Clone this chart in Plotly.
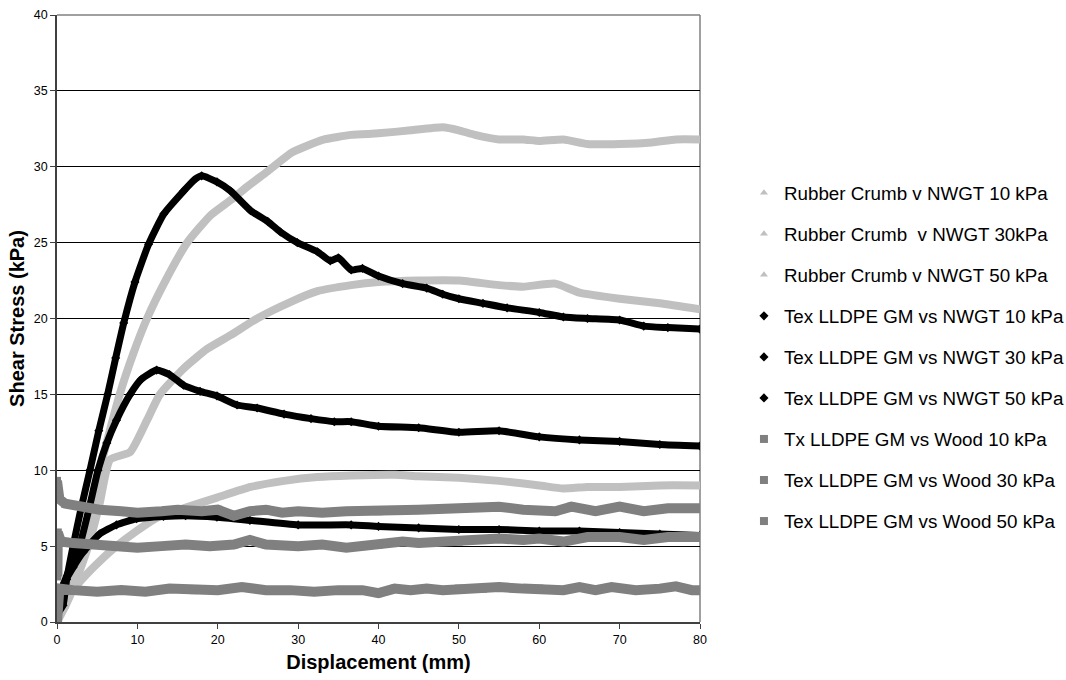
import plotly.graph_objects as go

# ---------------- data ----------------
rc10_x = [0, 0.75, 3.25, 5.3, 7.4, 9.9, 12.5, 15.75, 19.9, 24.1, 28.25, 32.4, 36.6, 42, 45, 50, 55, 60, 63, 66, 70, 75, 80]
rc10_y = [0, 1.3, 2.9, 4.0, 5.0, 6.0, 6.9, 7.5, 8.2, 8.9, 9.3, 9.55, 9.65, 9.7, 9.6, 9.5, 9.3, 9.0, 8.8, 8.9, 8.9, 9.0, 9.0]

rc30_x = [0, 1, 2, 3.9, 5.3, 6.6, 9.1, 11.2, 12.8, 15.75, 18.7, 21.6, 24.9, 29.1, 32.4, 36.6, 40, 45, 50, 55, 58, 62, 65, 70, 75, 80]
rc30_y = [0, 1.0, 2.2, 5.0, 7.8, 10.7, 11.2, 13.3, 15.0, 16.7, 18.0, 18.9, 20.0, 21.1, 21.8, 22.2, 22.4, 22.5, 22.5, 22.2, 22.1, 22.3, 21.7, 21.3, 21.0, 20.6]

rc50_x = [0, 1, 2, 3.25, 5.3, 7.8, 9.5, 11.2, 13.5, 16.2, 19.1, 21.6, 23.7, 26.2, 29.1, 30.75, 33.25, 36.6, 40, 44, 48, 50, 52, 55, 58, 60, 63, 66, 70, 74, 77, 80]
rc50_y = [0, 1.5, 3.2, 5.0, 10.0, 15.0, 17.7, 20.0, 22.5, 25.0, 26.8, 27.8, 28.7, 29.7, 30.9, 31.3, 31.8, 32.1, 32.2, 32.4, 32.6, 32.4, 32.1, 31.8, 31.8, 31.7, 31.8, 31.5, 31.5, 31.6, 31.8, 31.8]

tex10_x = [0, 0.75, 2, 3.25, 5.3, 7.4, 9.9, 13.25, 16, 19.9, 24, 30, 36.6, 40, 45, 50, 55, 60, 65, 70, 75, 80]
tex10_y = [0.5, 2.4, 3.6, 4.6, 5.8, 6.4, 6.8, 6.95, 7.0, 6.9, 6.7, 6.4, 6.4, 6.3, 6.2, 6.1, 6.1, 6.0, 6.0, 5.9, 5.8, 5.7]

tex30_x = [0, 0.75, 1.8, 2.8, 4.0, 5.1, 6.2, 7.4, 9.1, 10.5, 12.4, 14, 15.75, 17.8, 19.9, 22.4, 24.9, 28.25, 31.6, 34.5, 36.6, 40, 45, 50, 55, 60, 65, 70, 75, 80]
tex30_y = [0.5, 2.4, 3.8, 5.0, 7.5, 10.0, 11.8, 13.3, 15.0, 16.0, 16.6, 16.3, 15.6, 15.2, 14.9, 14.3, 14.1, 13.7, 13.4, 13.2, 13.2, 12.9, 12.8, 12.5, 12.6, 12.2, 12.0, 11.9, 11.7, 11.6]

tex50_x = [0, 0.75, 1.2, 2.0, 3.0, 4.1, 5.2, 6.3, 7.3, 8.3, 9.7, 11.4, 13.3, 15.75, 17, 18, 19.9, 21.6, 24.1, 26.2, 27.8, 29.9, 32.4, 34, 35, 36.6, 38, 40, 43, 46, 48, 50, 53, 56, 60, 63, 66, 70, 73, 76, 80]
tex50_y = [0.5, 1.1, 2.8, 5.0, 7.5, 10.0, 12.6, 15.0, 17.4, 19.7, 22.4, 24.9, 26.9, 28.4, 29.1, 29.4, 29.0, 28.4, 27.1, 26.4, 25.7, 25.0, 24.4, 23.8, 24.0, 23.2, 23.3, 22.8, 22.3, 22.0, 21.6, 21.3, 21.0, 20.7, 20.4, 20.1, 20.0, 19.9, 19.5, 19.4, 19.3]

wood10_x = [0, 0.1, 0.3, 2, 5, 8, 11, 14, 17, 20, 23, 26, 29, 32, 35, 38, 40, 42, 44, 46, 48, 50, 53, 55, 58, 60, 63, 65, 67, 69, 72, 75, 77, 79, 80]
wood10_y = [0, 1.2, 2.2, 2.1, 2.0, 2.1, 2.0, 2.2, 2.1, 2.1, 2.3, 2.1, 2.1, 2.0, 2.1, 2.1, 1.9, 2.2, 2.1, 2.2, 2.1, 2.2, 2.2, 2.3, 2.2, 2.2, 2.1, 2.3, 2.1, 2.3, 2.1, 2.2, 2.35, 2.1, 2.1]

wood30_x = [0, 0.05, 0.1, 0.5, 2, 5, 8, 10, 13, 16, 19, 22, 24, 26, 30, 33, 36, 38, 40, 43, 45, 48, 50, 53, 55, 58, 60, 63, 66, 70, 73, 76, 80]
wood30_y = [3.5, 3.0, 5.9, 5.3, 5.2, 5.1, 5.0, 4.9, 5.0, 5.1, 5.0, 5.1, 5.4, 5.1, 5.0, 5.1, 4.9, 5.0, 5.1, 5.3, 5.2, 5.3, 5.3, 5.4, 5.5, 5.4, 5.5, 5.3, 5.6, 5.6, 5.4, 5.6, 5.6]

wood50_x = [0, 0.3, 1, 3, 5.3, 8, 10, 13, 15, 18, 20, 22, 24, 26, 28, 30, 33, 36, 40, 45, 50, 55, 58, 62, 64, 67, 70, 73, 76, 80]
wood50_y = [9.3, 8.1, 7.8, 7.6, 7.4, 7.3, 7.2, 7.3, 7.4, 7.3, 7.4, 7.0, 7.3, 7.4, 7.2, 7.3, 7.2, 7.3, 7.3, 7.4, 7.5, 7.6, 7.4, 7.3, 7.6, 7.3, 7.6, 7.3, 7.5, 7.5]

series_names = [
    "Rubber Crumb v NWGT 10 kPa",
    "Rubber Crumb  v NWGT 30kPa",
    "Rubber Crumb v NWGT 50 kPa",
    "Tex LLDPE GM vs NWGT 10 kPa",
    "Tex LLDPE GM vs NWGT 30 kPa",
    "Tex LLDPE GM vs NWGT 50 kPa",
    "Tx LLDPE GM vs Wood 10 kPa",
    "Tex LLDPE GM vs Wood 30 kPa",
    "Tex LLDPE GM vs Wood 50 kPa",
]
series_x = [rc10_x, rc30_x, rc50_x, tex10_x, tex30_x, tex50_x, wood10_x, wood30_x, wood50_x]
series_y = [rc10_y, rc30_y, rc50_y, tex10_y, tex30_y, tex50_y, wood10_y, wood30_y, wood50_y]

x_ticks = [0, 10, 20, 30, 40, 50, 60, 70, 80]
y_ticks = [0, 5, 10, 15, 20, 25, 30, 35, 40]

# ---------------- styles ----------------
LIGHT = "#C0C0C0"
BLACK = "#000000"
GRAY = "#808080"
styles = [
    (LIGHT, "triangle-up", 8, 7, "spline"),
    (LIGHT, "triangle-up", 8, 7, "spline"),
    (LIGHT, "triangle-up", 8, 7, "spline"),
    (BLACK, "diamond", 7, 7, "spline"),
    (BLACK, "diamond", 7, 7, "spline"),
    (BLACK, "diamond", 7, 7, "spline"),
    (GRAY, "square", 10, 8, "linear"),
    (GRAY, "square", 10, 8, "linear"),
    (GRAY, "square", 10, 8, "linear"),
]

FONT = "Arial, Liberation Sans, sans-serif"

fig = go.Figure()
for i, (name, xs, ys) in enumerate(zip(series_names, series_x, series_y)):
    color, symbol, lw, ms, shape = styles[i]
    fig.add_trace(go.Scatter(
        x=xs, y=ys, mode="lines", name=name, legendgroup=f"g{i}",
        showlegend=False, line=dict(color=color, width=lw, shape=shape, smoothing=0.5),
        hoverinfo="skip"))
    fig.add_trace(go.Scatter(
        x=xs, y=ys, mode="markers", name=name, legendgroup=f"g{i}",
        showlegend=True, marker=dict(color=color, symbol=symbol, size=ms, line=dict(width=0))))

fig.update_layout(
    width=1066, height=680,
    margin=dict(l=57, r=366, t=15, b=58, autoexpand=False),
    paper_bgcolor="white", plot_bgcolor="white",
    font=dict(family=FONT, color="#000000"),
    showlegend=True,
    legend=dict(
        xref="container", yref="container",
        x=0.6979, xanchor="left", y=(680 - 174) / 680, yanchor="top",
        maxheight=480,
        font=dict(family=FONT, size=18.8, color="#000000"),
        tracegroupgap=13.6, bgcolor="rgba(0,0,0,0)", itemsizing="trace",
    ),
    xaxis=dict(
        range=[0, 80], tickvals=x_ticks, ticktext=[str(v) for v in x_ticks],
        showgrid=False, zeroline=False,
        showline=True, linecolor="#404040", linewidth=1.5,
        ticks="outside", ticklen=5, tickcolor="#404040", tickwidth=1,
        tickfont=dict(family=FONT, size=12.5, color="#000000"),
        title=dict(text="<b>Displacement (mm)</b>", font=dict(family=FONT, size=20, color="#000000"), standoff=9),
    ),
    yaxis=dict(
        range=[0, 40], tickvals=y_ticks, ticktext=[str(v) for v in y_ticks],
        showgrid=True, gridcolor="#000000", gridwidth=1, zeroline=False,
        showline=True, linecolor="#404040", linewidth=1.5,
        ticks="outside", ticklen=5, tickcolor="#404040", tickwidth=1,
        tickfont=dict(family=FONT, size=12.5, color="#000000"),
        title=dict(text="<b>Shear Stress (kPa)</b>", font=dict(family=FONT, size=20, color="#000000"), standoff=4),
    ),
    shapes=[
        dict(type="line", xref="paper", yref="paper", x0=0, x1=1, y0=1, y1=1,
             line=dict(color=GRAY, width=1.5), layer="above"),
        dict(type="line", xref="paper", yref="paper", x0=1, x1=1, y0=0, y1=1,
             line=dict(color=GRAY, width=1.5), layer="below"),
    ],
)

fig.write_html("out.html")
